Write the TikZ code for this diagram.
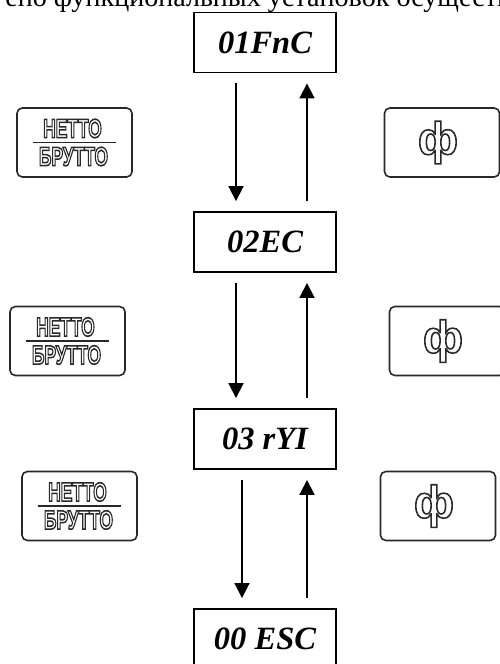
\documentclass[tikz,border=0pt]{standalone}
\usepackage{fontspec}
\setmainfont{Liberation Serif}
\newfontfamily\keyfont{Liberation Sans}
\usetikzlibrary{arrows.meta,calc,positioning}
\definecolor{keygray}{RGB}{40,40,40}
\newcommand{\keyglyph}[1]{\special{pdf:literal direct 2 Tr 0.9 w 0.16 0.16 0.16 RG 1 1 1 rg}%
 #1\special{pdf:literal direct 0 Tr 0 0 0 RG 0 0 0 rg}}

\begin{document}
\begin{tikzpicture}[x=0.02cm,y=-0.02cm,line cap=butt,
 >={Triangle[length=8.5pt,width=8.5pt]},
 stateBox/.style={draw,line width=1.1pt,minimum width=2.84cm,minimum height=1.2cm,
  inner sep=0pt,font=\fontsize{18.5}{20}\selectfont\bfseries\itshape},
 keyBox/.style={draw=keygray,line width=0.9pt,rounded corners=3pt,
  minimum width=2.3cm,minimum height=1.38cm},
 keyLbl/.style={inner sep=0pt,font=\keyfont\bfseries\fontsize{15}{16}\selectfont},
 flow/.style={->,line width=1.1pt,shorten <=0.2cm,shorten >=0.2cm}]
\useasboundingbox (0,0) rectangle (500,664);
\clip (0,0) rectangle (500,664);
\node[anchor=base west,inner sep=0pt,font=\fontsize{16}{18}\selectfont] (head)
 at (5,6) {ено функциональных установок осуществ};
\foreach \nm/\yy/\txt in {st1/42.5/01FnC,st2/242/02EC,st3/439/03 rYI,st4/639/00 ESC}
 \node[stateBox] (\nm) at (265,\yy) {\txt};
\foreach \a/\b/\dx in {st1/st2/-29,st2/st3/-29,st3/st4/-23}{
 \draw[flow] ($(\a.south)+(\dx,0)$) -- ($(\b.north)+(\dx,0)$);
 \draw[flow] ($(\b.north)+(42,0)$) -- ($(\a.south)+(42,0)$);}
\foreach \nm/\xx/\yy in {nb1/74.5/142.5,nb2/67.5/341,nb3/79.5/506}{
 \node[keyBox] (\nm) at (\xx,\yy) {};
 \node[keyLbl] (\nm up) at ($(\nm)+(-2,-14)$) {\scalebox{0.66}[1]{\keyglyph{НЕТТО}}};
 \node[keyLbl] (\nm dn) at ($(\nm)+(-1,14)$) {\scalebox{0.66}[1]{\keyglyph{БРУТТО}}};
 \draw[keygray,line width=0.7pt] ($(\nm)+(-42,0)$) -- ($(\nm)+(41,0)$);}
\foreach \nm/\xx/\yy in {kf1/442/142.5,kf2/447/341,kf3/438/506}{
 \node[keyBox] (\nm) at (\xx,\yy) {};
 \node[keyLbl,font=\keyfont\bfseries\fontsize{26}{28}\selectfont] (\nm g) at ($(\nm)+(-4,0)$) {\keyglyph{ф}};}
\end{tikzpicture}
\end{document}
